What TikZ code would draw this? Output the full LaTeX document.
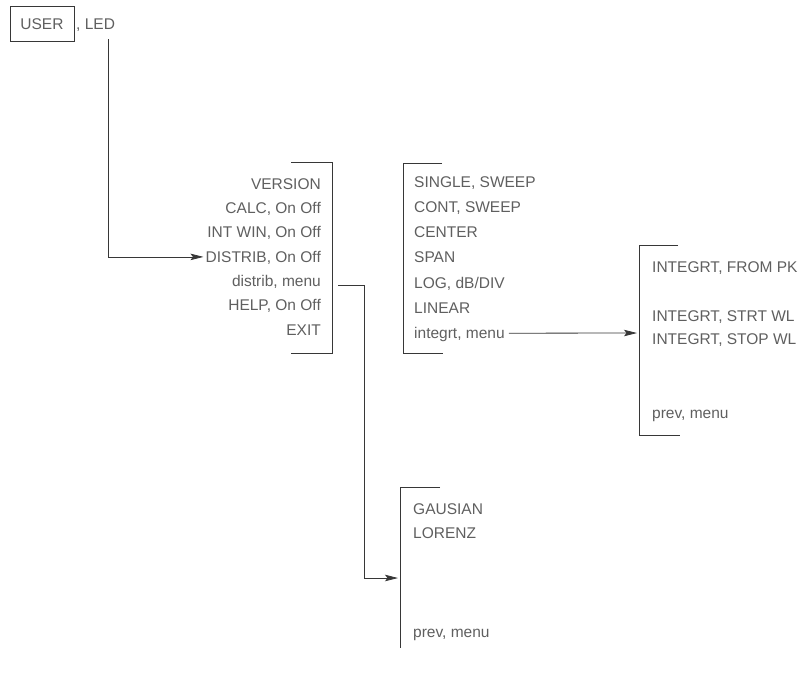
\documentclass[tikz,border=0pt]{standalone}
\usepackage{fontspec}
\setmainfont{Liberation Sans}
\usepackage{tikz}
\usetikzlibrary{arrows.meta,positioning}
\definecolor{linegray}{RGB}{55,55,55}
\definecolor{textgray}{RGB}{95,95,95}

\begin{document}
\begin{tikzpicture}[x=1pt,y=-1pt,font=\fontsize{15.5}{18}\selectfont,
  >={Stealth[length=13pt,width=6.5pt,inset=2.5pt]},
  item/.style={inner sep=0pt,text height=10.5pt,text depth=0pt,text=textgray},
  bar/.style={draw=linegray,line width=.8pt},
  link/.style={draw=linegray,line width=.8pt,->}]
\useasboundingbox (0,0) rectangle (810,675);
\node[item,draw=linegray,line width=.8pt,minimum width=64pt,minimum height=35pt] (user) at (42,24) {USER};
\node[item,anchor=west] (led) at (76,24) {, LED};
\foreach \txt [count=\i] in {VERSION,{CALC, On Off},{INT WIN, On Off},{DISTRIB, On Off},{distrib, menu},{HELP, On Off},EXIT}
  \node[item,anchor=east] (main\i) at (321,{184+24.3*(\i-1)}) {\txt};
\foreach \txt [count=\i] in {{SINGLE, SWEEP},{CONT, SWEEP},CENTER,SPAN,{LOG, dB/DIV},LINEAR,{integrt, menu}}
  \node[item,anchor=west] (sweep\i) at (414,{182+25.2*(\i-1)}) {\txt};
\node[item,anchor=west] (intg1) at (652,267) {INTEGRT, FROM PK};
\node[item,anchor=west] (intg2) at (652,316) {INTEGRT, STRT WL};
\node[item,anchor=west] (intg3) at (652,339) {INTEGRT, STOP WL};
\node[item,anchor=west] (intg4) at (652,413) {prev, menu};
\node[item,anchor=west] (dist1) at (413,509) {GAUSIAN};
\node[item,anchor=west] (dist2) at (413,533) {LORENZ};
\node[item,anchor=west] (dist3) at (413,632) {prev, menu};
\draw[bar] (291,162) -- (332,162) -- (332,353) -- (291,353);
\draw[bar] (442,163) -- (403,163) -- (403,353) -- (443,353);
\draw[bar] (678,245) -- (639,245) -- (639,435) -- (680,435);
\draw[bar] (440,487) -- (400,487) -- (400,648);
\coordinate (intgin) at (637,333);
\coordinate (distin) at (398,578);
\draw[link] ([xshift=13pt,yshift=-10pt]led.south) |- ([xshift=-2pt]main4.west);
\draw[link] ([xshift=17pt,yshift=-4pt]main5.east) -- ++(26,0) |- (distin);
\draw[link] ([xshift=4pt]sweep7.east) -- (intgin);
\end{tikzpicture}
\end{document}
